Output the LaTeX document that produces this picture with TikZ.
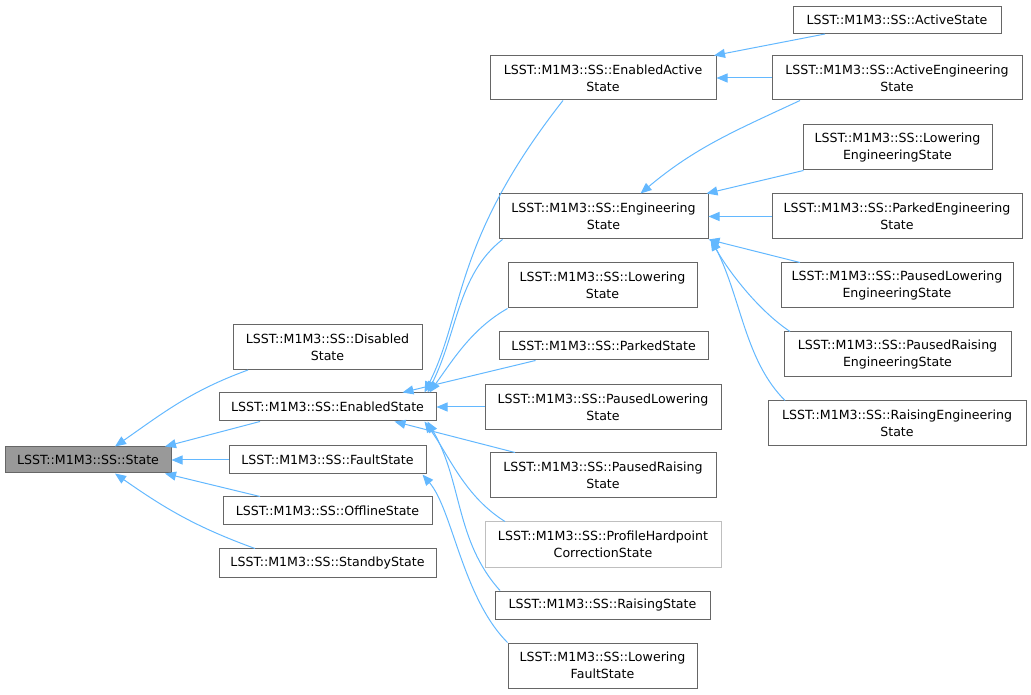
\documentclass[tikz,border=0pt]{standalone}
\usepackage{fontspec}
\setmainfont{DejaVu Sans}
\usetikzlibrary{arrows.meta}
\definecolor{edgeblue}{HTML}{63B8FF}
\definecolor{boxgray}{HTML}{666666}
\definecolor{rootfill}{HTML}{999999}
\tikzset{
    basic/.style   = {rectangle, draw=boxgray, line width=1pt, fill=white, inner sep=0pt,
                      align=center, font=\fontsize{12.6}{17}\selectfont},
    klass/.style   = {basic},
    root/.style    = {basic, fill=rootfill},
    ghost/.style   = {basic, draw=black!25},
    inherit/.style = {draw=edgeblue, line width=1pt, {Triangle[length=11pt,width=9pt]}-}
}

\begin{document}
\begin{tikzpicture}[x=1pt,y=1pt]
    \useasboundingbox (0,0) rectangle (1031,694);
    % base class and its direct children
    \node[root,  minimum width=166, minimum height=26] (state)    at (88,234)    {LSST::M1M3::SS::State};
    \node[klass, minimum width=189, minimum height=45] (disabled) at (327.5,347) {LSST::M1M3::SS::Disabled\\State};
    \node[klass, minimum width=217, minimum height=28] (enabled)  at (327.5,287) {LSST::M1M3::SS::EnabledState};
    \node[klass, minimum width=197, minimum height=28] (fault)    at (327.5,234) {LSST::M1M3::SS::FaultState};
    \node[klass, minimum width=209, minimum height=28] (offline)  at (327.5,183) {LSST::M1M3::SS::OfflineState};
    \node[klass, minimum width=217, minimum height=28] (standby)  at (327.5,131) {LSST::M1M3::SS::StandbyState};
    % second column
    \node[klass, minimum width=226, minimum height=44] (enabledactive)  at (603,616)   {LSST::M1M3::SS::EnabledActive\\State};
    \node[klass, minimum width=209, minimum height=45] (engineering)    at (603.5,477.5) {LSST::M1M3::SS::Engineering\\State};
    \node[klass, minimum width=189, minimum height=45] (lowering)       at (602.5,408.5) {LSST::M1M3::SS::Lowering\\State};
    \node[klass, minimum width=209, minimum height=28] (parked)         at (603.5,348) {LSST::M1M3::SS::ParkedState};
    \node[klass, minimum width=236, minimum height=45] (pausedlowering) at (603,287)   {LSST::M1M3::SS::PausedLowering\\State};
    \node[klass, minimum width=226, minimum height=45] (pausedraising)  at (603,218.5) {LSST::M1M3::SS::PausedRaising\\State};
    \node[ghost, minimum width=236, minimum height=45] (profile)        at (603,149.5) {LSST::M1M3::SS::ProfileHardpoint\\CorrectionState};
    \node[klass, minimum width=215, minimum height=28] (raising)        at (602.5,89)  {LSST::M1M3::SS::RaisingState};
    \node[klass, minimum width=189, minimum height=45] (loweringfault)  at (602.5,28.5) {LSST::M1M3::SS::Lowering\\FaultState};
    % third column
    \node[klass, minimum width=208, minimum height=27] (active)        at (897,674)   {LSST::M1M3::SS::ActiveState};
    \node[klass, minimum width=250, minimum height=44] (activeeng)     at (897,616)   {LSST::M1M3::SS::ActiveEngineering\\State};
    \node[klass, minimum width=189, minimum height=45] (lowereng)      at (897.5,546.5) {LSST::M1M3::SS::Lowering\\EngineeringState};
    \node[klass, minimum width=250, minimum height=45] (parkedeng)     at (897,477.5) {LSST::M1M3::SS::ParkedEngineering\\State};
    \node[klass, minimum width=232, minimum height=45] (pausedloweng)  at (897,408.5) {LSST::M1M3::SS::PausedLowering\\EngineeringState};
    \node[klass, minimum width=227, minimum height=45] (pausedraiseng) at (897.5,339.5) {LSST::M1M3::SS::PausedRaising\\EngineeringState};
    \node[klass, minimum width=258, minimum height=45] (raiseng)       at (897,270.5) {LSST::M1M3::SS::RaisingEngineering\\State};

    % inheritance edges, arrow at the base class
    \draw[inherit] ([xshift=27]state.north) to[out=35,in=200] ([xshift=-79.5]disabled.south);
    \draw[inherit] ([xshift=77]state.north) -- ([xshift=-67.5]enabled.south);
    \draw[inherit] (state.east) -- (fault.west);
    \draw[inherit] ([xshift=77]state.south) -- ([xshift=-67.5]offline.north);
    \draw[inherit] ([xshift=27]state.south) to[out=-35,in=160] ([xshift=-72.5]standby.north);

    \draw[inherit] ([xshift=97]enabled.north) .. controls +(40,80) and +(-110,-140) .. ([xshift=-40]enabledactive.south);
    \draw[inherit] ([xshift=100]enabled.north) .. controls +(30,60) and +(-45,-35) .. ([xshift=-101]engineering.south);
    \draw[inherit] ([xshift=102]enabled.north) .. controls +(25,35) and +(-35,-20) .. (lowering.south west);
    \draw[inherit] ([xshift=75]enabled.north) -- ([xshift=-68]parked.south);
    \draw[inherit] (enabled.east) -- (pausedlowering.west);
    \draw[inherit] ([xshift=67]enabled.south) -- ([xshift=-88]pausedraising.north);
    \draw[inherit] ([xshift=97]enabled.south) .. controls +(25,-35) and +(-40,25) .. ([xshift=-98]profile.north);
    \draw[inherit] ([xshift=100]enabled.south) .. controls +(35,-60) and +(-45,50) .. ([xshift=-102.5]raising.north);
    \draw[inherit] ([xshift=95]fault.south) .. controls +(30,-35) and +(-45,45) .. (loweringfault.north west);

    \draw[inherit] ([xshift=111]enabledactive.north) -- ([xshift=-72]active.south);
    \draw[inherit] (enabledactive.east) -- (activeeng.west);
    \draw[inherit] ([xshift=37]engineering.north) to[out=40,in=205] ([xshift=-97]activeeng.south);
    \draw[inherit] ([xshift=-2]engineering.north east) -- ([xshift=-94]lowereng.south);
    \draw[inherit] (engineering.east) -- (parkedeng.west);
    \draw[inherit] (engineering.south east) -- ([xshift=-97]pausedloweng.north);
    \draw[inherit] ([xshift=2]engineering.south east) .. controls +(20,-35) and +(-30,20) .. ([xshift=-107.5]pausedraiseng.north);
    \draw[inherit] ([xshift=3]engineering.south east) .. controls +(30,-60) and +(-40,40) .. ([xshift=-112]raiseng.north);
\end{tikzpicture}
\end{document}
